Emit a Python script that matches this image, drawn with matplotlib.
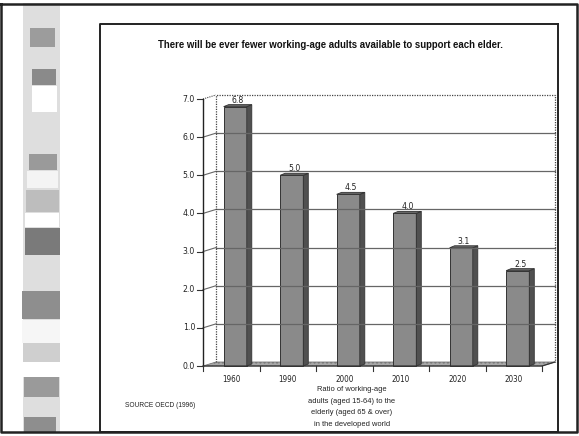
import matplotlib
matplotlib.use("Agg")
import matplotlib.pyplot as plt
from matplotlib.patches import Polygon, Rectangle
from matplotlib.lines import Line2D
from matplotlib.transforms import IdentityTransform

years = ["1960", "1990", "2000", "2010", "2020", "2030"]
ratios = [6.8, 5.0, 4.5, 4.0, 3.1, 2.5]
yticks = [0, 1, 2, 3, 4, 5, 6, 7]

title = "There will be ever fewer working-age adults available to support each elder."
xlabel = "Ratio of working-age\nadults (aged 15-64) to the\nelderly (aged 65 & over)\nin the developed world"
source = "SOURCE OECD (1996)"

# grey bands down the left margin (top px, bottom px, left px, right px, shade)
strip = [
    (28, 47, 30, 55, "#9c9c9c"), (69, 85, 32, 56, "#8a8a8a"), (86, 112, 32, 57, "#ffffff"),
    (154, 170, 29, 57, "#9a9a9a"), (171, 188, 27, 58, "#f4f4f4"), (190, 212, 26, 59, "#bdbdbd"),
    (213, 227, 25, 59, "#ffffff"), (228, 255, 25, 60, "#7a7a7a"), (291, 319, 22, 60, "#8e8e8e"),
    (320, 343, 22, 60, "#f6f6f6"), (343, 362, 23, 60, "#cfcfcf"), (362, 377, 23, 60, "#ffffff"),
    (377, 397, 24, 59, "#9a9a9a"), (417, 432, 24, 56, "#8e8e8e"),
]

NARROW = dict(family="DejaVu Sans", fontstretch="condensed", color="#222222")
SMALL = dict(family=["Liberation Sans", "DejaVu Sans"], color="#222222")
W, H = 579, 436
fig = plt.figure(figsize=(W / 100, H / 100), dpi=100)
fig.patch.set_facecolor("white")

# page frame and left strip, in pixel units
def fy(y):
    return H - y

fig.add_artist(Rectangle((23, fy(432)), 37, 429, transform=IdentityTransform(),
                         facecolor="#dedede", edgecolor="none"))
for top, bot, l, r, c in strip:
    fig.add_artist(Rectangle((l, fy(bot)), r - l, bot - top, transform=IdentityTransform(),
                             facecolor=c, edgecolor="none"))
fig.add_artist(Line2D([1, 577, 577, 1, 1], [fy(4), fy(4), fy(432), fy(432), fy(4)],
                      transform=IdentityTransform(), color="#222222", lw=1.8))
fig.add_artist(Line2D([100, 558, 558], [fy(432), fy(432), fy(24)],
                      transform=IdentityTransform(), color="#222222", lw=1.4))
fig.add_artist(Line2D([100, 100, 558], [fy(432), fy(24), fy(24)],
                      transform=IdentityTransform(), color="#222222", lw=1.4))

ax = fig.add_axes([203 / W, (H - 366) / H, 339 / W, 267 / H])
ax.set_xlim(-0.5, len(years) - 0.5)
ax.set_ylim(0, 7)
ax.axis("off")
fig.canvas.draw()

def px(x, y, dx=0, dy=0):
    X, Y = ax.transData.transform((x, y))
    return (X + dx, Y + dy)

def poly(pts, **kw):
    fig.add_artist(Polygon(pts, closed=True, transform=IdentityTransform(), **kw))

def line(pts, **kw):
    xs, ys = zip(*pts)
    fig.add_artist(Line2D(xs, ys, transform=IdentityTransform(), **kw))

WX, WY = 13, 4      # depth of the back wall
x0, x1 = -0.5, len(years) - 0.5

# floor
poly([px(x0, 0), px(x1, 0), px(x1, 0, WX, WY), px(x0, 0, WX, WY)],
     facecolor="#a8a8a8", edgecolor="#777777", lw=0.6, hatch="....")

# gridlines on the back wall, with short slants from the axis
for v in yticks[1:-1]:
    line([px(x0, v, WX, WY), px(x1, v, WX, WY)], color="#666666", lw=0.9)
    line([px(x0, v), px(x0, v, WX, WY)], color="#666666", lw=0.8)
for v in yticks:
    line([px(x0, v, -6, 0), px(x0, v)], color="#333333", lw=0.8)
    ax.annotate(f"{v:.1f}", (x0, v), xytext=(-8, 0), textcoords="offset pixels",
                ha="right", va="center", fontsize=6.2, **NARROW)

# wall outline (dotted)
line([px(x0, 0, WX, WY), px(x0, 7, WX, WY), px(x1, 7, WX, WY), px(x1, 0, WX, WY)],
     color="#444444", lw=0.9, ls=(0, (1, 1)))
line([px(x0, 7), px(x0, 7, WX, WY)], color="#444444", lw=0.8, ls=(0, (1, 1)))

# axes lines
line([px(x0, 0), px(x0, 7)], color="#222222", lw=1.0)
line([px(x0, 0), px(x1, 0), px(x1, 0, WX, WY)], color="#333333", lw=0.9)
for k in range(len(years) + 1):
    line([px(x0 + k, 0), px(x0 + k, 0, 0, -5)], color="#333333", lw=0.8)

# bars with side and top faces
BW, DX, DY = 0.41, 5, 2
for i, (yr, v) in enumerate(zip(years, ratios)):
    c = i + 0.07
    l, r = c - BW / 2, c + BW / 2
    poly([px(l, 0), px(r, 0), px(r, v), px(l, v)],
         facecolor="#8a8a8a", edgecolor="#333333", lw=0.7)
    poly([px(r, 0), px(r, 0, DX, DY), px(r, v, DX, DY), px(r, v)],
         facecolor="#505050", edgecolor="#333333", lw=0.6)
    poly([px(l, v), px(r, v), px(r, v, DX, DY), px(l, v, DX, DY)],
         facecolor="#666666", edgecolor="#333333", lw=0.6)
    ax.annotate(f"{v:.1f}", (c + 0.05, v), xytext=(0, 2), textcoords="offset pixels",
                ha="center", va="bottom", fontsize=6.2, **NARROW)
    ax.annotate(yr, (i, 0), xytext=(0, -9), textcoords="offset pixels",
                ha="center", va="top", fontsize=5.8, **NARROW)

fig.text(330 / W, 1 - 45 / H, title, ha="center", va="center", fontsize=6.9,
         fontweight="bold", family=["Liberation Sans", "DejaVu Sans"], color="#111111")
fig.text(352 / W, 1 - 386 / H, xlabel, ha="center", va="top", fontsize=5.4,
         linespacing=1.9, **SMALL)
fig.text(125 / W, 1 - 405 / H, source, ha="left", va="center", fontsize=4.8, **SMALL)

fig.savefig("out.png", dpi=100)
